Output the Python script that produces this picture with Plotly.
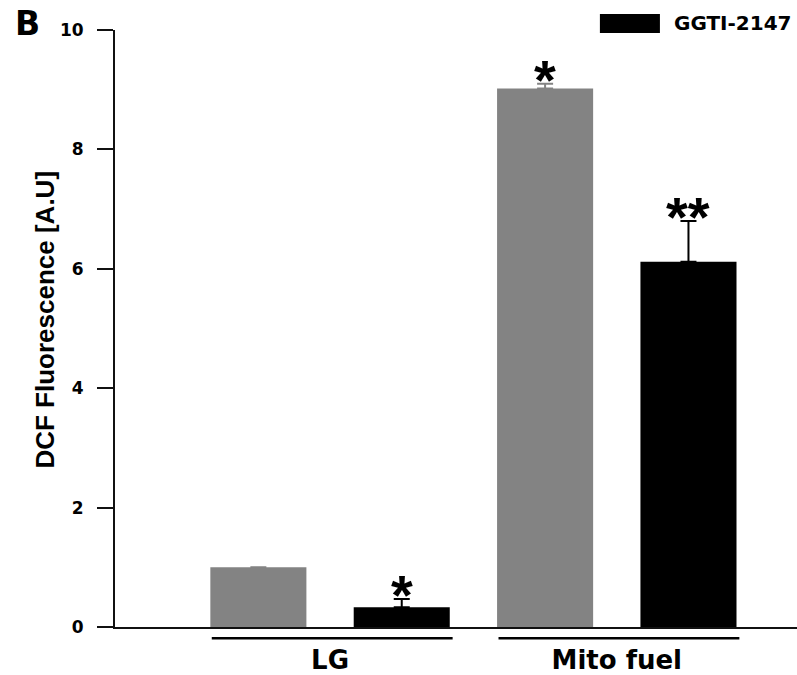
import plotly.graph_objects as go

groups = ["LG", "Mito fuel"]
control_vals = [1.0, 9.02]
control_err = [0.0, 0.08]
ggti_vals = [0.33, 6.12]
ggti_err = [0.14, 0.68]
control_sig = ["", "*"]
ggti_sig = ["*", "**"]
legend_name = "GGTI-2147"
y_title = "DCF Fluorescence [A.U]"
y_ticks = [0, 2, 4, 6, 8, 10]

GRAY = "#838383"
BLACK = "#000000"
FONT = "DejaVu Sans"

x_ctrl = [2 * i for i in range(len(groups))]
x_ggti = [2 * i + 1 for i in range(len(groups))]
x_mid = [2 * i + 0.5 for i in range(len(groups))]
bw = 0.67


def err_arr(errs):
    return [e if e else None for e in errs]


fig = go.Figure()
fig.add_trace(go.Bar(
    x=x_ctrl, y=control_vals, width=bw, name="Control",
    marker=dict(color=GRAY, line=dict(width=0)),
    error_y=dict(type="data", symmetric=False, array=err_arr(control_err),
                 arrayminus=[0] * len(groups), color=GRAY, thickness=2, width=8),
    showlegend=False,
))
fig.add_trace(go.Bar(
    x=x_ggti, y=ggti_vals, width=bw, name=legend_name,
    marker=dict(color=BLACK, line=dict(width=0)),
    error_y=dict(type="data", symmetric=False, array=err_arr(ggti_err),
                 arrayminus=[0] * len(groups), color=BLACK, thickness=2, width=8),
    showlegend=False,
))

annotations = []
for xs, vals, errs, sigs in [(x_ctrl, control_vals, control_err, control_sig),
                             (x_ggti, ggti_vals, ggti_err, ggti_sig)]:
    for x, v, e, s in zip(xs, vals, errs, sigs):
        if s:
            annotations.append(dict(
                x=x, y=v + e, xref="x", yref="y", text=s, showarrow=False,
                yanchor="bottom", xanchor="center", yshift=-29,
                font=dict(family="Liberation Sans", size=56, color="black", weight="bold"),
            ))

shapes = []
for xc, xg in zip(x_ctrl, x_ggti):
    shapes.append(dict(type="line", xref="x", yref="paper",
                       x0=xc - bw / 2 + 0.01, x1=xg + bw / 2 + 0.02,
                       y0=-0.019, y1=-0.019,
                       line=dict(color="black", width=2.5)))

# legend swatch
shapes.append(dict(type="rect", xref="paper", yref="paper",
                   x0=0.711, x1=0.799, y0=0.995, y1=1.027,
                   fillcolor=BLACK, line=dict(width=0)))
annotations.append(dict(x=0.8167, y=1.0117, xref="paper", yref="paper",
                        text=legend_name, showarrow=False, xanchor="left",
                        yanchor="middle",
                        font=dict(family=FONT, size=20, color="black", weight="bold")))
annotations.append(dict(x=-0.1496, y=1.0117, xref="paper", yref="paper",
                        text="B", showarrow=False, xanchor="left", yanchor="middle",
                        font=dict(family=FONT, size=33, color="black", weight="bold")))
annotations.append(dict(x=0, y=0.515, xref="paper", yref="paper",
                        text=y_title, showarrow=False, textangle=-90,
                        xanchor="center", yanchor="middle", xshift=-70,
                        font=dict(family="Liberation Sans", size=26, color="black",
                                  weight="bold")))

fig.update_layout(
    width=797, height=675,
    margin=dict(l=115, r=0, t=30, b=38),
    paper_bgcolor="white", plot_bgcolor="white",
    barmode="overlay",
    shapes=shapes, annotations=annotations,
    font=dict(family=FONT, color="black"),
)
fig.update_xaxes(
    range=[-1.0, 3.757], showgrid=False, zeroline=False,
    showline=True, linecolor="#111", linewidth=2,
    tickvals=x_mid, ticktext=groups, ticks="",
    ticklabelstandoff=9,
    tickfont=dict(family=FONT, size=26, color="black", weight="bold"),
)
fig.update_yaxes(
    range=[0, 10], showgrid=False, zeroline=False,
    showline=True, linecolor="#111", linewidth=2,
    tickvals=y_ticks, ticks="outside", ticklen=16, tickwidth=2, tickcolor="#111",
    ticklabelstandoff=10,
    tickfont=dict(family=FONT, size=17, color="black", weight="bold"),
)

fig.write_html("out.html")
